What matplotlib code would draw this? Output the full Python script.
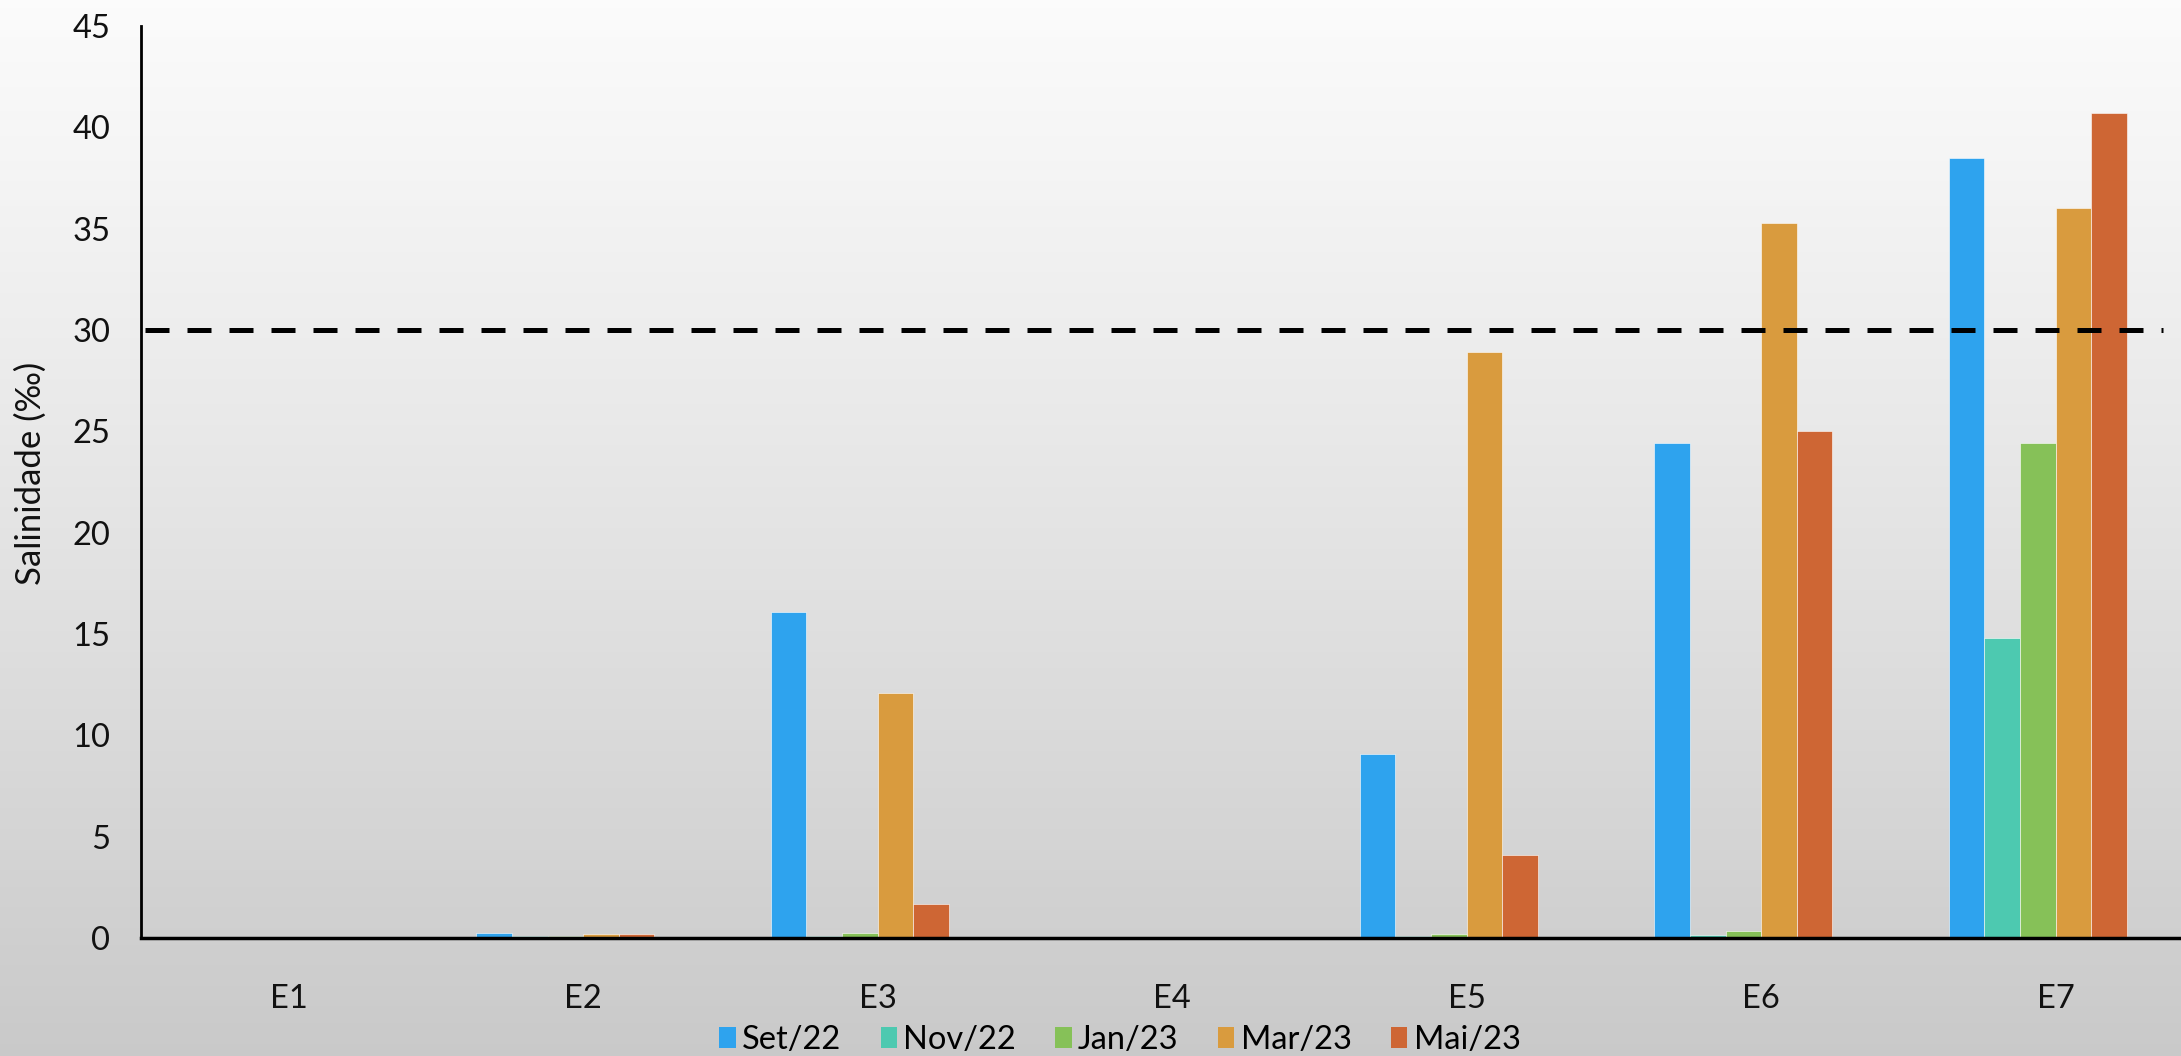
import numpy as np
import matplotlib
matplotlib.use('Agg')
import matplotlib.pyplot as plt
from matplotlib.patches import Patch

plt.rcParams['font.family'] = ['Lato', 'DejaVu Sans']

# Stations and sampling campaigns
stations = ['E1', 'E2', 'E3', 'E4', 'E5', 'E6', 'E7']
campaigns = ['Set/22', 'Nov/22', 'Jan/23', 'Mar/23', 'Mai/23']

# Salinity (‰) per campaign, one value per station
set22 = [0.0, 0.25, 16.1, 0.0, 9.1, 24.4, 38.5]
nov22 = [0.0, 0.1, 0.1, 0.0, 0.1, 0.15, 14.8]
jan23 = [0.0, 0.1, 0.23, 0.0, 0.2, 0.35, 24.4]
mar23 = [0.0, 0.18, 12.1, 0.0, 28.9, 35.3, 36.0]
mai23 = [0.0, 0.18, 1.7, 0.0, 4.1, 25.0, 40.7]

colors = ['#2EA3EE', '#4DC9B0', '#86C158', '#D99B3E', '#CE6634']
limit = 30

series = [set22, nov22, jan23, mar23, mai23]

fig = plt.figure(figsize=(21.81, 10.56), dpi=100)

# light-to-grey background
bg = fig.add_axes([0, 0, 1, 1], zorder=-10)
grad = np.linspace(0, 1, 256)[:, None]
top, bottom = np.array([0.985, 0.985, 0.985]), np.array([0.79, 0.79, 0.79])
img = top + (bottom - top) * grad[..., None] ** 1.1
bg.imshow(np.repeat(img, 2, axis=1), aspect='auto', extent=[0, 1, 0, 1])
bg.set_axis_off()

ax = fig.add_axes([141 / 2181, 118 / 1056, 1 - 141 / 2181, 912 / 1056])
ax.patch.set_alpha(0)

x = np.arange(len(stations))
w = 0.121
for i, (vals, c) in enumerate(zip(series, colors)):
    ax.bar(x + (i - 2) * w, vals, width=w, color=c, edgecolor='white',
           linewidth=0.4, zorder=2)

ax.axhline(limit, xmin=0.002, xmax=0.991, color='black', lw=3.6,
           dashes=(4.8, 3.6), zorder=3)

ax.set_xlim(-0.441, 6.486)
ax.set_ylim(0, 45)
ax.set_yticks(np.arange(0, 46, 5))
ax.set_xticks(x + 0.06)
ax.set_xticklabels(stations)
ax.tick_params(axis='both', length=0, labelsize=23.5, colors='#111111')
ax.tick_params(axis='y', pad=22)
ax.tick_params(axis='x', pad=33)

for s in ['top', 'right']:
    ax.spines[s].set_visible(False)
ax.spines['left'].set_linewidth(2)
ax.spines['bottom'].set_linewidth(2.5)
ax.spines['bottom'].set_zorder(4)

fig.text(31 / 2181, 1 - 473 / 1056, 'Salinidade (‰)', rotation=90,
         ha='center', va='center', fontsize=25, color='#111111')

handles = [Patch(facecolor=c, edgecolor='none') for c in colors]
fig.legend(handles, campaigns, loc='center', ncol=5,
           bbox_to_anchor=(1120 / 2181, 1 - 1040 / 1056), frameon=False,
           fontsize=23.5, handlelength=0.5, handleheight=0.65,
           handletextpad=0.2, columnspacing=1.2)

fig.savefig('out.png', dpi=100)
